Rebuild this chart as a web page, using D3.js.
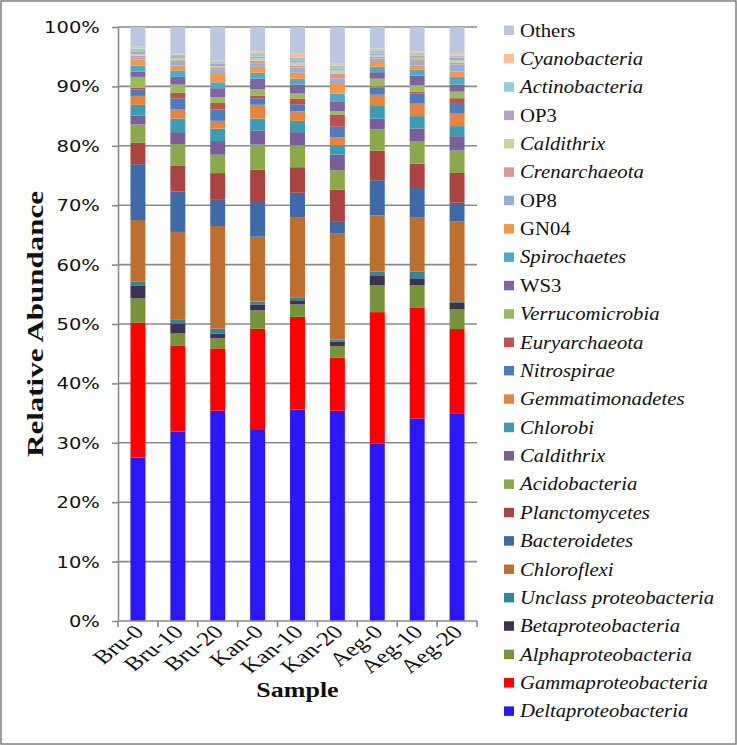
<!DOCTYPE html>
<html><head><meta charset="utf-8">
<script src="https://cdn.jsdelivr.net/npm/d3@7"></script>
<style>body{margin:0;background:#fff}svg{display:block}</style>
</head><body>
<svg id="chart" width="737" height="745"></svg>
<script>
// ---- data ----
const samples = ["Bru-0","Bru-10","Bru-20","Kan-0","Kan-10","Kan-20","Aeg-0","Aeg-10","Aeg-20"];
const yTicks = [0,0.1,0.2,0.3,0.4,0.5,0.6,0.7,0.8,0.9,1.0];

const deltaproteobacteria   = [27.5,31.9,35.4,32.3,35.6,35.4,29.9,34.1,34.9];
const gammaproteobacteria   = [22.7,14.5,10.5,16.9,15.6, 8.9,22.1,18.7,14.3];
const alphaproteobacteria   = [4.1,2.0,1.7,3.1,2.1,2.0,4.5,3.7,3.3];
const betaproteobacteria    = [2.2,1.7,0.8,1.0,0.7,0.7,1.7,1.2,1.1];
const unclassProteobacteria = [0.6,0.6,0.8,0.5,0.5,0.4,0.6,1.1,0.3];
const chloroflexi           = [10.4,14.8,17.3,10.9,13.5,17.8,9.5,9.2,13.4];
const bacteroidetes         = [9.4,6.8,4.4,6.0,4.1,2.0,5.9,4.9,3.2];
const planctomycetes        = [3.6,4.4,4.5,5.3,4.3,5.4,5.0,4.1,5.0];
const acidobacteria         = [3.1,3.6,3.1,4.2,3.7,3.3,3.6,3.8,3.8];
const caldithrixA           = [1.5,2.0,2.3,2.4,2.2,2.6,1.8,2.1,2.4];
const chlorobi              = [1.8,2.3,2.1,2.0,1.9,1.6,2.1,2.1,1.7];
const gemmatimonadetes      = [1.5,1.5,1.3,2.3,1.6,1.3,1.9,2.1,2.2];
const nitrospirae           = [1.1,1.9,1.9,1.1,1.2,1.8,1.2,1.7,1.7];
const euryarchaeota         = [0.3,0.9,1.1,0.4,0.9,2.0,0.2,0.3,0.8];
const verrucomicrobia       = [1.8,1.4,1.0,1.1,0.9,0.6,1.3,1.1,1.1];
const ws3                   = [0.9,1.3,1.5,1.8,1.5,1.7,1.1,1.6,1.2];
const spirochaetes          = [1.0,1.1,1.0,1.0,1.0,1.3,0.9,1.0,1.3];
const gn04                  = [1.0,0.8,1.4,1.0,1.0,1.6,0.8,0.7,0.9];
const op8                   = [0.4,0.6,0.7,0.6,0.9,0.9,0.6,0.8,1.2];
const crenarchaeota         = [0.3,0.3,0.3,0.4,0.3,0.8,0.3,0.3,0.3];
const caldithrixB           = [0.2,0.4,0.3,0.4,0.5,0.6,0.3,0.2,0.4];
const op3                   = [0.4,0.3,0.4,0.3,0.4,0.3,0.2,0.4,0.4];
const actinobacteria        = [0.6,0.3,0.3,0.6,0.4,0.5,0.6,0.4,0.4];
const cyanobacteria         = [0.3,0.2,0.3,0.3,0.8,0.3,0.3,0.3,0.3];
const others                = [3.3,4.4,5.6,4.1,4.4,6.2,3.6,4.1,4.5];

// bottom -> top
const seriesNames = ["Deltaproteobacteria","Gammaproteobacteria","Alphaproteobacteria","Betaproteobacteria",
  "Unclass proteobacteria","Chloroflexi","Bacteroidetes","Planctomycetes","Acidobacteria","Caldithrix",
  "Chlorobi","Gemmatimonadetes","Nitrospirae","Euryarchaeota","Verrucomicrobia","WS3","Spirochaetes",
  "GN04","OP8","Crenarchaeota","Caldithrix","OP3","Actinobacteria","Cyanobacteria","Others"];
const seriesValues = [deltaproteobacteria,gammaproteobacteria,alphaproteobacteria,betaproteobacteria,
  unclassProteobacteria,chloroflexi,bacteroidetes,planctomycetes,acidobacteria,caldithrixA,
  chlorobi,gemmatimonadetes,nitrospirae,euryarchaeota,verrucomicrobia,ws3,spirochaetes,
  gn04,op8,crenarchaeota,caldithrixB,op3,actinobacteria,cyanobacteria,others];
const seriesColors = ["#2a17fb","#ff0000","#77933c","#403151","#31859c","#be6f30","#3e6aa9","#ab4340",
  "#8aa94b","#7a5e9c","#3a9db5","#e8853c","#4b7cc0","#c0504d","#9bbb59","#8064a2","#4bacc6",
  "#f79646","#95b0d8","#d99694","#c3d69b","#b3a2c7","#93cddd","#fac090","#b9c7e3"];
const nonItalic = ["Others","OP3","OP8","GN04","WS3"];

// ---- chart ----
(function(){
const svg = d3.select("#chart");
const SX = 1.3;   // horizontal stretch of axis text
const SXL = 1.12; // horizontal stretch of legend text
const L = 118, R = 477, T = 27, B = 621;
const grid = "#8a8a8a";
const serif = "'Liberation Serif','Times New Roman',serif";

svg.append("rect").attr("x",1).attr("y",1).attr("width",735).attr("height",743)
  .attr("fill","#fff").attr("stroke","#7f7f7f").attr("stroke-width",1.5);

const x = d3.scaleBand().domain(samples).range([L,R]).paddingInner(0.625).paddingOuter(0.3125);
const y = d3.scaleLinear().domain([0,1]).range([B,T]);

// gridlines
svg.append("g").selectAll("line").data(yTicks.slice(1)).join("line")
  .attr("x1",L).attr("x2",R).attr("y1",d=>y(d)).attr("y2",d=>y(d))
  .attr("stroke",grid).attr("stroke-width",1.6);

// stacked bars
const rows = samples.map((s,i)=>{const r={sample:s}; seriesValues.forEach((v,k)=>r[k]=v[i]); return r;});
const stack = d3.stack().keys(d3.range(seriesNames.length)).offset(d3.stackOffsetExpand);
const layers = stack(rows);
svg.append("g").selectAll("g").data(layers).join("g")
  .attr("fill",(d,i)=>seriesColors[i])
  .selectAll("rect").data(d=>d).join("rect")
  .attr("x",d=>x(d.data.sample)).attr("width",x.bandwidth())
  .attr("y",d=>y(d[1])).attr("height",d=>y(d[0])-y(d[1]));

// y axis
const yAxis = svg.append("g").attr("transform",`translate(${L},0)`)
  .call(d3.axisLeft(y).tickValues(yTicks).tickFormat(d3.format(".0%")).tickSize(6).tickSizeOuter(0));
yAxis.select(".domain").attr("stroke",grid).attr("stroke-width",1.6);
yAxis.selectAll(".tick line").attr("stroke",grid).attr("stroke-width",1.6);
yAxis.selectAll(".tick text").attr("x",-14).attr("dy","0.36em")
  .attr("transform",`scale(${SX},1)`)
  .style("font-family","'DejaVu Sans', Verdana, sans-serif").style("font-size","15px").attr("fill","#111");

// x axis (ticks at category boundaries)
const xAxisG = svg.append("g");
xAxisG.append("line").attr("x1",L).attr("x2",R).attr("y1",B).attr("y2",B)
  .attr("stroke",grid).attr("stroke-width",1.6);
const bx = i => i===0 ? L : (i===samples.length ? R : (x(samples[i-1])+x.bandwidth()+x(samples[i]))/2);
xAxisG.selectAll(".xt").data(d3.range(samples.length+1)).join("line").attr("class","xt")
  .attr("x1",bx).attr("x2",bx)
  .attr("y1",B).attr("y2",B+6).attr("stroke",grid).attr("stroke-width",1.6);

xAxisG.selectAll(".xl").data(samples).join("text").attr("class","xl")
  .attr("transform",d=>`translate(${x(d)+x.bandwidth()/2+7},${B+12}) scale(${SX},1) rotate(-45)`)
  .attr("text-anchor","end")
  .style("font-family",serif).style("font-size","19.5px").attr("fill","#111")
  .text(d=>d);

// axis titles
svg.append("text").attr("transform",`translate(${(L+R)/2},697) scale(${SX},1)`)
  .attr("text-anchor","middle").style("font-family",serif)
  .style("font-size","20px").style("font-weight","bold").attr("fill","#111").text("Sample");
svg.append("text").attr("transform",`translate(43,${(T+B)/2}) scale(0.76,1) rotate(-90)`)
  .attr("text-anchor","middle").style("font-family",serif)
  .style("font-size","31px").style("font-weight","bold").attr("fill","#111").text("Relative Abundance");

// legend (top -> bottom is reverse of stack order)
const legendIdx = d3.range(seriesNames.length).reverse();
const lg = svg.append("g").selectAll("g").data(legendIdx).join("g")
  .attr("transform",(d,i)=>`translate(504,${30 + i*28.37})`);
lg.append("rect").attr("x",0).attr("y",-4.5).attr("width",10).attr("height",9.5).attr("fill",d=>seriesColors[d]);
lg.append("text").attr("transform",`translate(16,6.5) scale(${SXL},1)`)
  .style("font-family",serif).style("font-size","18.5px")
  .style("font-style",d=>nonItalic.includes(seriesNames[d])?"normal":"italic").attr("fill","#111")
  .text(d=>seriesNames[d]);
})();
</script>
</body></html>
